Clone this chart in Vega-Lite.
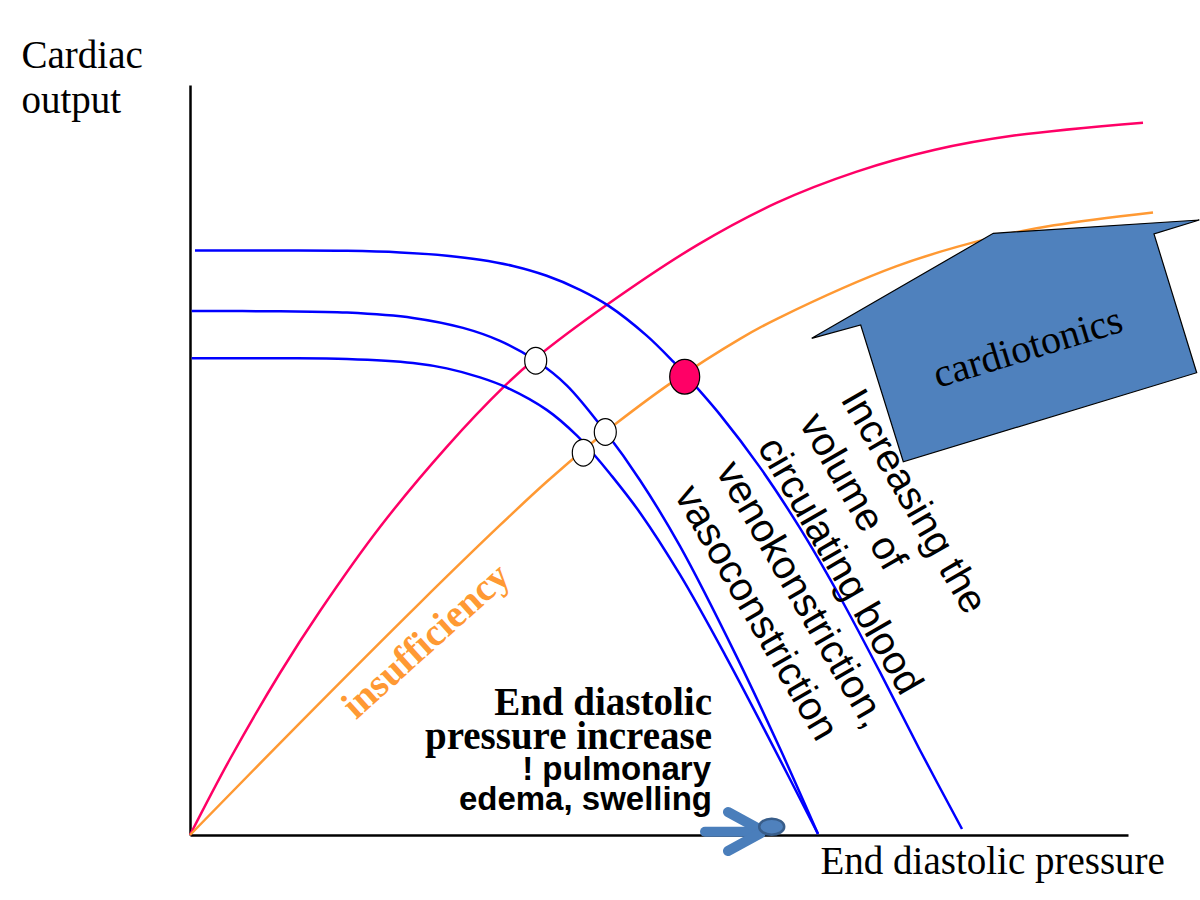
{
  "$schema": "https://vega.github.io/schema/vega-lite/v6.json",
  "width": 938,
  "height": 750,
  "autosize": {"type": "none"},
  "padding": {"left": 190, "top": 85, "right": 72, "bottom": 65},
  "background": "white",
  "config": {
    "view": {"stroke": null},
    "axis": {"grid": false, "ticks": false, "labels": false, "domainColor": "#000000", "domainWidth": 2.5}
  },
  "datasets": {
    "curves": [
      {"s": "cardiac", "x": 0, "y": 0}, {"s": "cardiac", "x": 4, "y": 7.6}, {"s": "cardiac", "x": 9, "y": 16.2},
      {"s": "cardiac", "x": 13, "y": 22.4}, {"s": "cardiac", "x": 19, "y": 30.8}, {"s": "cardiac", "x": 25.7, "y": 38.84},
      {"s": "cardiac", "x": 31.5, "y": 44.93}, {"s": "cardiac", "x": 34.5, "y": 47.63}, {"s": "cardiac", "x": 41.8, "y": 53.1},
      {"s": "cardiac", "x": 50.8, "y": 59.04}, {"s": "cardiac", "x": 58.7, "y": 63.23}, {"s": "cardiac", "x": 66.6, "y": 66.31},
      {"s": "cardiac", "x": 74.5, "y": 68.52}, {"s": "cardiac", "x": 82.4, "y": 69.94}, {"s": "cardiac", "x": 95.3, "y": 71.23},
      {"s": "insufficiency", "x": 0, "y": 0}, {"s": "insufficiency", "x": 11, "y": 11.22}, {"s": "insufficiency", "x": 23, "y": 23.22},
      {"s": "insufficiency", "x": 31, "y": 30.98}, {"s": "insufficiency", "x": 35.67, "y": 35.32}, {"s": "insufficiency", "x": 40.33, "y": 39.33},
      {"s": "insufficiency", "x": 42.67, "y": 41.2}, {"s": "insufficiency", "x": 48, "y": 45.14}, {"s": "insufficiency", "x": 55, "y": 49.62},
      {"s": "insufficiency", "x": 58.7, "y": 51.62}, {"s": "insufficiency", "x": 70.6, "y": 56.86}, {"s": "insufficiency", "x": 80.1, "y": 59.71},
      {"s": "insufficiency", "x": 86.4, "y": 60.97}, {"s": "insufficiency", "x": 96.3, "y": 62.26},
      {"s": "vr1", "x": 0.5, "y": 58.45}, {"s": "vr1", "x": 9, "y": 58.45}, {"s": "vr1", "x": 15.7, "y": 58.42},
      {"s": "vr1", "x": 21, "y": 58.26}, {"s": "vr1", "x": 25.7, "y": 57.93}, {"s": "vr1", "x": 29, "y": 57.53},
      {"s": "vr1", "x": 32.3, "y": 56.9}, {"s": "vr1", "x": 35.67, "y": 55.92}, {"s": "vr1", "x": 39, "y": 54.52},
      {"s": "vr1", "x": 41.83, "y": 52.94}, {"s": "vr1", "x": 45.67, "y": 49.94}, {"s": "vr1", "x": 48.33, "y": 47.33},
      {"s": "vr1", "x": 49.5, "y": 46.07}, {"s": "vr1", "x": 53, "y": 42.04}, {"s": "vr1", "x": 57, "y": 36.76},
      {"s": "vr1", "x": 61, "y": 30.68}, {"s": "vr1", "x": 65, "y": 23.8}, {"s": "vr1", "x": 69, "y": 16.28},
      {"s": "vr1", "x": 73, "y": 8.48}, {"s": "vr1", "x": 77.2, "y": 0.6},
      {"s": "vr2", "x": 0.17, "y": 52.4}, {"s": "vr2", "x": 9, "y": 52.37}, {"s": "vr2", "x": 15.7, "y": 52.24},
      {"s": "vr2", "x": 22.3, "y": 51.71}, {"s": "vr2", "x": 27.3, "y": 50.71}, {"s": "vr2", "x": 31, "y": 49.41},
      {"s": "vr2", "x": 34.57, "y": 47.45}, {"s": "vr2", "x": 37.67, "y": 44.97}, {"s": "vr2", "x": 41.53, "y": 40.34},
      {"s": "vr2", "x": 45, "y": 35.48}, {"s": "vr2", "x": 49, "y": 28.88}, {"s": "vr2", "x": 54.7, "y": 17.76},
      {"s": "vr2", "x": 59, "y": 8.64}, {"s": "vr2", "x": 62.8, "y": 0.1},
      {"s": "vr3", "x": 0.17, "y": 47.67}, {"s": "vr3", "x": 9, "y": 47.67}, {"s": "vr3", "x": 15.7, "y": 47.6},
      {"s": "vr3", "x": 22.3, "y": 47.2}, {"s": "vr3", "x": 25.67, "y": 46.66}, {"s": "vr3", "x": 29, "y": 45.76},
      {"s": "vr3", "x": 31.67, "y": 44.75}, {"s": "vr3", "x": 35.67, "y": 42.51}, {"s": "vr3", "x": 38.67, "y": 39.96},
      {"s": "vr3", "x": 40.33, "y": 38.13}, {"s": "vr3", "x": 42, "y": 36.13}, {"s": "vr3", "x": 45, "y": 32.23},
      {"s": "vr3", "x": 49, "y": 26.03}, {"s": "vr3", "x": 53.5, "y": 18.02}, {"s": "vr3", "x": 58, "y": 9.47},
      {"s": "vr3", "x": 62.8, "y": 0.11}
    ],
    "arrow": [
      {"i": 1, "x": 62.17, "y": 49.67}, {"i": 2, "x": 67.07, "y": 51.0}, {"i": 3, "x": 71.33, "y": 37.33},
      {"i": 4, "x": 100.67, "y": 46.23}, {"i": 5, "x": 96.4, "y": 60.1}, {"i": 6, "x": 100.93, "y": 61.5},
      {"i": 7, "x": 80.33, "y": 60.17}, {"i": 8, "x": 62.17, "y": 49.67}
    ],
    "equilibria": [
      {"kind": "normal", "x": 34.57, "y": 47.43},
      {"kind": "normal", "x": 41.53, "y": 40.3},
      {"kind": "normal", "x": 39.33, "y": 38.23}
    ],
    "compensated": [
      {"kind": "compensated", "x": 49.47, "y": 45.83}
    ],
    "smallarrow": [
      {"seg": "shaft", "x": 51.5, "y": 0.33}, {"seg": "shaft", "x": 56.8, "y": 0.33},
      {"seg": "up", "x": 53.8, "y": 2.3}, {"seg": "up", "x": 57.1, "y": 0.5},
      {"seg": "down", "x": 53.8, "y": -1.6}, {"seg": "down", "x": 57.1, "y": 0.2}
    ],
    "bead": [{"x": 58.17, "y": 0.83}]
  },
  "encoding": {
    "x": {
      "field": "x", "type": "quantitative",
      "scale": {"domain": [0, 93.8], "nice": false, "zero": false},
      "axis": {
        "title": "End diastolic pressure", "titleFont": "Liberation Serif", "titleFontSize": 39,
        "titleFontWeight": "normal", "titleColor": "#000000", "titleAlign": "left",
        "titleBaseline": "alphabetic", "titleAngle": 0, "titleX": 630, "titleY": 38
      }
    },
    "y": {
      "field": "y", "type": "quantitative",
      "scale": {"domain": [0, 75], "nice": false, "zero": false},
      "axis": {
        "title": ["Cardiac", "output"], "titleFont": "Liberation Serif", "titleFontSize": 39,
        "titleFontWeight": "normal", "titleColor": "#000000", "titleAlign": "left",
        "titleBaseline": "alphabetic", "titleAngle": 0, "titleX": -169, "titleY": -18, "titleLineHeight": 45
      }
    }
  },
  "layer": [
    {
      "data": {"name": "curves"},
      "mark": {"type": "line", "interpolate": "catmull-rom", "strokeWidth": 2.5, "clip": false},
      "encoding": {
        "detail": {"field": "s"},
        "color": {
          "field": "s", "type": "nominal", "legend": null,
          "scale": {"domain": ["cardiac", "insufficiency", "vr1", "vr2", "vr3"], "range": ["#FF0066", "#FF9933", "#0000FF", "#0000FF", "#0000FF"]}
        }
      }
    },
    {
      "data": {"name": "arrow"},
      "mark": {"type": "line", "interpolate": "linear", "fill": "#4F81BD", "stroke": "#000000", "strokeWidth": 1.2, "strokeJoin": "miter", "clip": false},
      "encoding": {"order": {"field": "i", "type": "quantitative"}}
    },
    {
      "data": {"name": "equilibria"},
      "mark": {"type": "point", "shape": "M0,-1.22A1,1.22,0,1,1,0,1.22A1,1.22,0,1,1,0,-1.22Z", "size": 484, "filled": true, "fill": "#FFFFFF", "stroke": "#000000", "strokeWidth": 1.2, "opacity": 1}
    },
    {
      "data": {"name": "compensated"},
      "mark": {"type": "point", "shape": "M0,-1.16A1,1.16,0,1,1,0,1.16A1,1.16,0,1,1,0,-1.16Z", "size": 900, "filled": true, "fill": "#FF0066", "stroke": "#000000", "strokeWidth": 1.2, "opacity": 1}
    },
    {
      "data": {"name": "smallarrow"},
      "mark": {"type": "line", "stroke": "#4A7EBB", "strokeWidth": 10, "strokeCap": "round", "clip": false},
      "encoding": {"detail": {"field": "seg"}}
    },
    {
      "data": {"name": "bead"},
      "mark": {"type": "point", "shape": "M-1,0A1,0.64,0,1,1,1,0A1,0.64,0,1,1,-1,0Z", "size": 625, "filled": true, "fill": "#4F81BD", "stroke": "#385D8A", "strokeWidth": 2.5, "opacity": 1}
    },
    {
      "data": {"values": [{"label": "insufficiency", "x": 23.6, "y": 19.4}]},
      "mark": {"type": "text", "font": "Liberation Serif", "fontWeight": "bold", "fontSize": 39, "color": "#FF9933", "angle": -42, "align": "center", "baseline": "middle"},
      "encoding": {"text": {"field": "label"}}
    },
    {
      "data": {"values": [
        {"label": "End diastolic", "x": 52.2, "y": 12.05},
        {"label": "pressure increase", "x": 52.2, "y": 8.65}
      ]},
      "mark": {"type": "text", "font": "Liberation Serif", "fontWeight": "bold", "fontSize": 39, "color": "#000000", "align": "right", "baseline": "alphabetic"},
      "encoding": {"text": {"field": "label"}}
    },
    {
      "data": {"values": [
        {"label": "! pulmonary", "x": 52.1, "y": 5.55},
        {"label": "edema, swelling", "x": 52.2, "y": 2.5}
      ]},
      "mark": {"type": "text", "font": "Liberation Sans", "fontWeight": "bold", "fontSize": 33, "color": "#000000", "align": "right", "baseline": "alphabetic"},
      "encoding": {"text": {"field": "label"}}
    },
    {
      "data": {"values": [
        {"label": "Increasing the\nvolume of\ncirculating blood\nvenokonstriction,\nvasoconstriction", "x": 65.0, "y": 43.6}
      ]},
      "mark": {"type": "text", "font": "Liberation Sans", "fontSize": 40, "color": "#000000", "angle": 60, "align": "left", "baseline": "alphabetic", "lineBreak": "\n", "lineHeight": 48},
      "encoding": {"text": {"field": "label"}}
    },
    {
      "data": {"values": [{"label": "cardiotonics", "x": 83.8, "y": 48.7}]},
      "mark": {"type": "text", "font": "Liberation Serif", "fontSize": 40, "color": "#000000", "angle": -17, "align": "center", "baseline": "middle"},
      "encoding": {"text": {"field": "label"}}
    }
  ]
}
